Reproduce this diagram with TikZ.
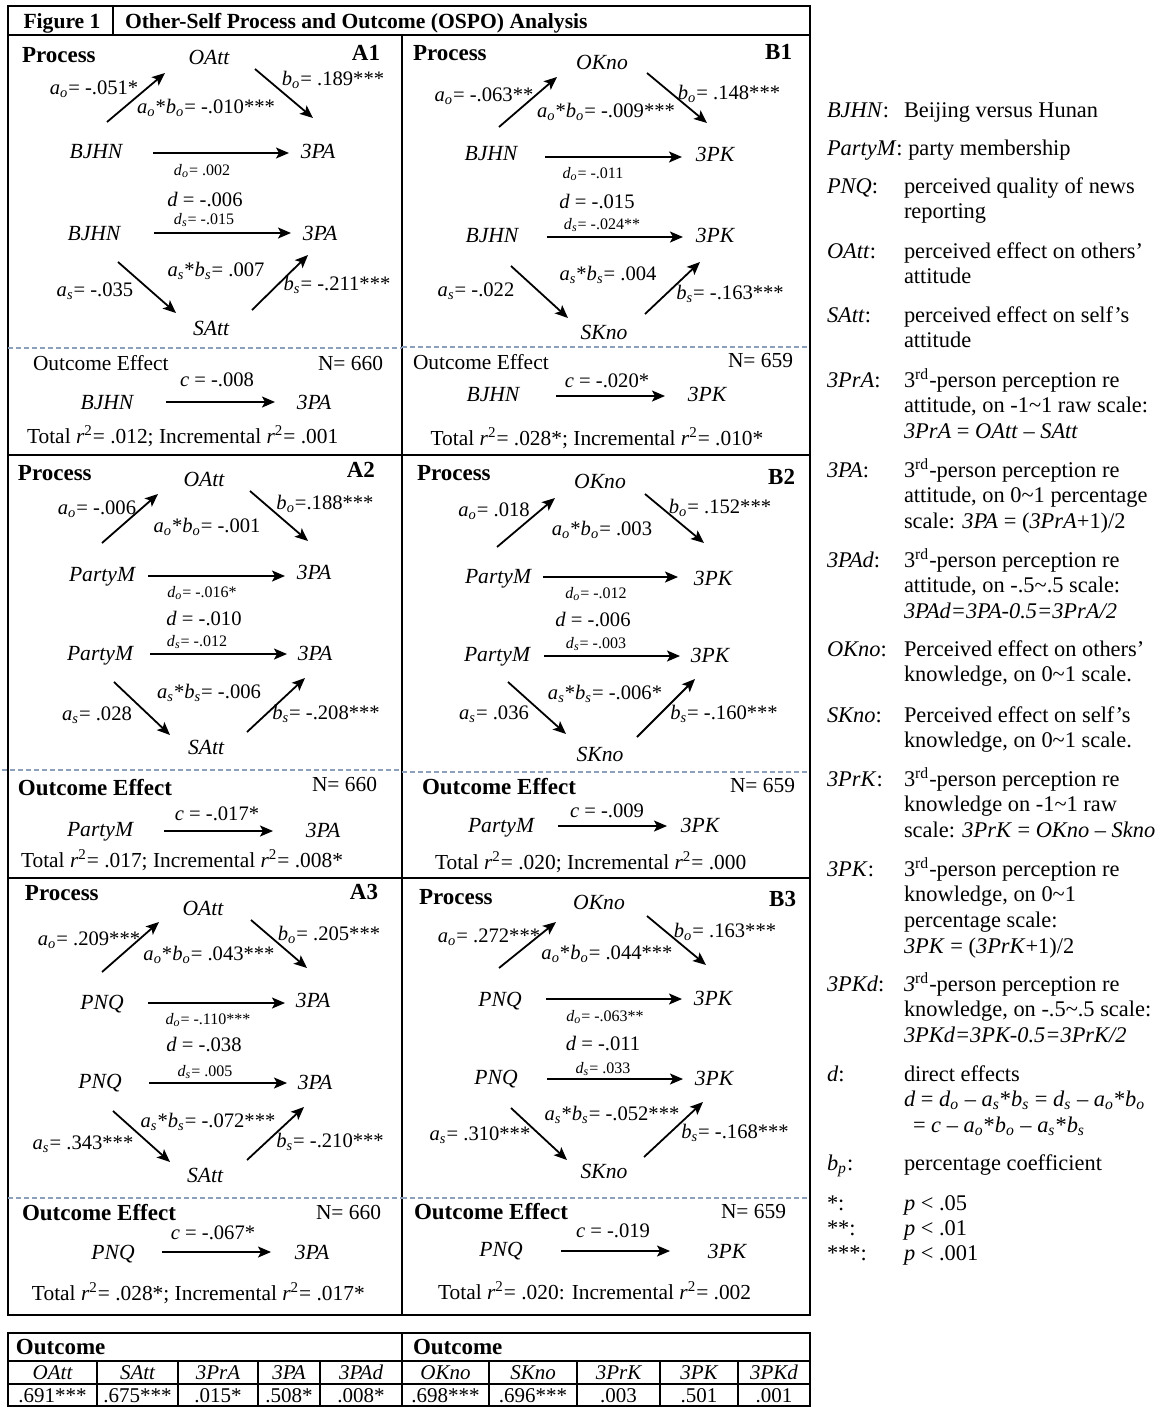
\documentclass[tikz,border=0pt]{standalone}
\usepackage{fontspec}
\setmainfont{Liberation Serif}
\usetikzlibrary{arrows.meta}
\definecolor{dashc}{RGB}{140,160,188}
\newcommand\sbi[2]{\textit{#1}\textsubscript{\textit{#2}}}
\newcommand\rsq{\textit{r}\textsuperscript{2}}
\newcommand\mkarrow[3]{\coordinate (#1s) at (#2); \coordinate (#1e) at (#3); \draw[arr] (#1s) -- (#1e);}
\newcommand\lines[1]{\parbox[t]{170pt}{#1}}
\begin{document}
\begin{tikzpicture}[x=0.5pt,y=-0.5pt,
  every node/.style={inner sep=0pt,outer sep=0pt},
  lab/.style={font=\fontsize{10.8}{12}\selectfont\itshape,text height=7pt,text depth=0pt},
  num/.style={font=\fontsize{10.3}{12}\selectfont,text height=7pt,text depth=0pt},
  sm/.style={font=\fontsize{8}{9.5}\selectfont,text height=5.3pt,text depth=0pt},
  hd/.style={font=\fontsize{11.5}{13}\selectfont\bfseries,text height=7.6pt,text depth=0pt},
  txt/.style={font=\fontsize{10.7}{12}\selectfont,text height=7pt,text depth=0pt},
  ttl/.style={font=\fontsize{10.8}{12}\selectfont\bfseries,text height=7pt,text depth=0pt},
  leg/.style={font=\fontsize{11.2}{12.85}\selectfont},
  thd/.style={font=\fontsize{10.5}{12}\selectfont\itshape,text height=7pt,text depth=0pt},
  tval/.style={font=\fontsize{10.5}{12}\selectfont,text height=7pt,text depth=0pt},
  arr/.style={-{Stealth[length=6.5pt,width=5.5pt,inset=1.5pt]},line width=0.9pt},
  frame/.style={line width=1.1pt},
  tline/.style={line width=0.7pt},
  dsh/.style={draw=dashc,dash pattern=on 2.5pt off 1.5pt,line width=0.6pt}]
\useasboundingbox (0,0) rectangle (1159,1408);

% ---------- frame ----------
\draw[frame] (8,6) rectangle (810,1315);
\draw[frame] (8,35) -- (810,35);
\draw[frame] (113,6) -- (113,35);
\draw[frame] (402,35) -- (402,1315);
\draw[frame] (8,455) -- (810,455);
\draw[frame] (8,878) -- (810,878);
\node[ttl] (fig) at (62,21) {Figure 1};
\node[ttl,anchor=west] (title) at (125,21) {Other-Self Process and Outcome (OSPO) Analysis};

% ---------- A1 ----------
\node[hd,anchor=west] (A1proc) at (22,55) {Process};
\node[lab] (A1O) at (209,57) {OAtt};
\node[hd,anchor=east] (A1id) at (380,53) {A1};
\node[lab] (A1X1) at (96,151) {BJHN};
\node[lab] (A1Y1) at (318,151) {3PA};
\node[lab] (A1X2) at (94,233) {BJHN};
\node[lab] (A1Y2) at (320,233) {3PA};
\node[lab] (A1S) at (211,328) {SAtt};
\node[num] (A1ao) at (94,87) {\sbi{a}{o}= -.051*};
\node[num] (A1bo) at (333,78) {\sbi{b}{o}= .189***};
\node[num] (A1ab) at (206,106) {\sbi{a}{o}*\sbi{b}{o}= -.010***};
\node[sm] (A1do) at (202,170) {\sbi{d}{o}= .002};
\node[num] (A1d) at (205,199) {\textit{d} = -.006};
\node[sm] (A1ds) at (204,219) {\sbi{d}{s}= -.015};
\node[num] (A1asbs) at (216,269) {\sbi{a}{s}*\sbi{b}{s}= .007};
\node[num] (A1as) at (95,289) {\sbi{a}{s}= -.035};
\node[num] (A1bs) at (337,283) {\sbi{b}{s}= -.211***};
\mkarrow{A1c1}{107,122}{165,73}
\mkarrow{A1c2}{255,69}{313,118}
\mkarrow{A1c3}{153,153}{289,153}
\mkarrow{A1c4}{154,233}{291,233}
\mkarrow{A1c5}{118,262}{176,313}
\mkarrow{A1c6}{252,310}{308,255}
\draw[dsh] (8,348) -- (402,348);
\node[txt,anchor=west] (A1oe) at (33,363) {Outcome Effect};
\node[txt,anchor=east] (A1N) at (383,363) {N= 660};
\node[num] (A1c) at (217,379) {\textit{c} = -.008};
\node[lab] (A1X3) at (107,402) {BJHN};
\node[lab] (A1Y3) at (314,402) {3PA};
\mkarrow{A1c7}{166,402}{275,402}
\node[txt,anchor=west] (A1tot) at (27,436) {Total \rsq= .012; Incremental \rsq= .001};

% ---------- B1 ----------
\node[hd,anchor=west] (B1proc) at (413,53) {Process};
\node[lab] (B1O) at (602,62) {OKno};
\node[hd,anchor=east] (B1id) at (792,52) {B1};
\node[lab] (B1X1) at (491,153) {BJHN};
\node[lab] (B1Y1) at (715,154) {3PK};
\node[lab] (B1X2) at (492,235) {BJHN};
\node[lab] (B1Y2) at (715,235) {3PK};
\node[lab] (B1S) at (604,332) {SKno};
\node[num] (B1ao) at (484,94) {\sbi{a}{o}= -.063**};
\node[num] (B1bo) at (729,92) {\sbi{b}{o}= .148***};
\node[num] (B1ab) at (606,110) {\sbi{a}{o}*\sbi{b}{o}= -.009***};
\node[sm] (B1do) at (593,173) {\sbi{d}{o}= -.011};
\node[num] (B1d) at (597,201) {\textit{d} = -.015};
\node[sm] (B1ds) at (602,224) {\sbi{d}{s}= -.024**};
\node[num] (B1asbs) at (608,273) {\sbi{a}{s}*\sbi{b}{s}= .004};
\node[num] (B1as) at (476,289) {\sbi{a}{s}= -.022};
\node[num] (B1bs) at (730,292) {\sbi{b}{s}= -.163***};
\mkarrow{B1c1}{499,127}{557,77}
\mkarrow{B1c2}{647,73}{707,123}
\mkarrow{B1c3}{545,157}{682,157}
\mkarrow{B1c4}{547,237}{683,237}
\mkarrow{B1c5}{511,266}{568,318}
\mkarrow{B1c6}{645,314}{700,262}
\draw[dsh] (402,347) -- (810,347);
\node[txt,anchor=west] (B1oe) at (413,362) {Outcome Effect};
\node[txt,anchor=east] (B1N) at (793,360) {N= 659};
\node[num] (B1c) at (607,380) {\textit{c} = -.020*};
\node[lab] (B1X3) at (493,394) {BJHN};
\node[lab] (B1Y3) at (707,394) {3PK};
\mkarrow{B1c7}{556,396}{665,396}
\node[txt] (B1tot) at (597,438) {Total \rsq= .028*; Incremental \rsq= .010*};

% ---------- A2 ----------
\node[hd,anchor=west] (A2proc) at (18,473) {Process};
\node[lab] (A2O) at (204,479) {OAtt};
\node[hd,anchor=east] (A2id) at (375,470) {A2};
\node[lab] (A2X1) at (102,574) {PartyM};
\node[lab] (A2Y1) at (314,572) {3PA};
\node[lab] (A2X2) at (100,653) {PartyM};
\node[lab] (A2Y2) at (315,653) {3PA};
\node[lab] (A2S) at (206,747) {SAtt};
\node[num] (A2ao) at (97,507) {\sbi{a}{o}= -.006};
\node[num] (A2bo) at (325,502) {\sbi{b}{o}=.188***};
\node[num] (A2ab) at (207,525) {\sbi{a}{o}*\sbi{b}{o}= -.001};
\node[sm] (A2do) at (202,592) {\sbi{d}{o}= -.016*};
\node[num] (A2d) at (204,618) {\textit{d} = -.010};
\node[sm] (A2ds) at (197,641) {\sbi{d}{s}= -.012};
\node[num] (A2asbs) at (209,691) {\sbi{a}{s}*\sbi{b}{s}= -.006};
\node[num] (A2as) at (97,713) {\sbi{a}{s}= .028};
\node[num] (A2bs) at (326,712) {\sbi{b}{s}= -.208***};
\mkarrow{A2c1}{102,543}{158,494}
\mkarrow{A2c2}{250,491}{308,541}
\mkarrow{A2c3}{148,576}{285,576}
\mkarrow{A2c4}{150,654}{287,654}
\mkarrow{A2c5}{114,682}{170,735}
\mkarrow{A2c6}{247,732}{305,678}
\draw[dsh] (2,770) -- (402,770);
\node[hd,anchor=west] (A2oe) at (18,788) {Outcome Effect};
\node[txt,anchor=east] (A2N) at (377,784) {N= 660};
\node[num] (A2c) at (217,813) {\textit{c} = -.017*};
\node[lab] (A2X3) at (100,829) {PartyM};
\node[lab] (A2Y3) at (323,830) {3PA};
\mkarrow{A2c7}{164,831}{273,831}
\node[txt,anchor=west] (A2tot) at (21,860) {Total \rsq= .017; Incremental \rsq= .008*};

% ---------- B2 ----------
\node[hd,anchor=west] (B2proc) at (417,473) {Process};
\node[lab] (B2O) at (600,481) {OKno};
\node[hd,anchor=east] (B2id) at (795,477) {B2};
\node[lab] (B2X1) at (498,576) {PartyM};
\node[lab] (B2Y1) at (713,578) {3PK};
\node[lab] (B2X2) at (497,654) {PartyM};
\node[lab] (B2Y2) at (710,655) {3PK};
\node[lab] (B2S) at (600,754) {SKno};
\node[num] (B2ao) at (494,509) {\sbi{a}{o}= .018};
\node[num] (B2bo) at (720,506) {\sbi{b}{o}= .152***};
\node[num] (B2ab) at (602,528) {\sbi{a}{o}*\sbi{b}{o}= .003};
\node[sm] (B2do) at (596,593) {\sbi{d}{o}= -.012};
\node[num] (B2d) at (593,619) {\textit{d} = -.006};
\node[sm] (B2ds) at (596,643) {\sbi{d}{s}= -.003};
\node[num] (B2asbs) at (605,692) {\sbi{a}{s}*\sbi{b}{s}= -.006*};
\node[num] (B2as) at (494,712) {\sbi{a}{s}= .036};
\node[num] (B2bs) at (724,712) {\sbi{b}{s}= -.160***};
\mkarrow{B2c1}{497,547}{555,498}
\mkarrow{B2c2}{645,494}{704,543}
\mkarrow{B2c3}{543,577}{678,577}
\mkarrow{B2c4}{544,656}{680,656}
\mkarrow{B2c5}{508,682}{566,734}
\mkarrow{B2c6}{637,737}{695,679}
\draw[dsh] (402,772) -- (810,772);
\node[hd,anchor=west] (B2oe) at (422,787) {Outcome Effect};
\node[txt,anchor=east] (B2N) at (795,785) {N= 659};
\node[num] (B2c) at (607,810) {\textit{c} = -.009};
\node[lab] (B2X3) at (501,825) {PartyM};
\node[lab] (B2Y3) at (700,825) {3PK};
\mkarrow{B2c7}{558,826}{667,826}
\node[txt,anchor=west] (B2tot) at (435,862) {Total \rsq= .020; Incremental \rsq= .000};

% ---------- A3 ----------
\node[hd,anchor=west] (A3proc) at (25,893) {Process};
\node[lab] (A3O) at (203,908) {OAtt};
\node[hd,anchor=east] (A3id) at (378,892) {A3};
\node[lab] (A3X1) at (102,1002) {PNQ};
\node[lab] (A3Y1) at (313,1000) {3PA};
\node[lab] (A3X2) at (100,1081) {PNQ};
\node[lab] (A3Y2) at (315,1082) {3PA};
\node[lab] (A3S) at (205,1175) {SAtt};
\node[num] (A3ao) at (89,938) {\sbi{a}{o}= .209***};
\node[num] (A3bo) at (329,933) {\sbi{b}{o}= .205***};
\node[num] (A3ab) at (209,953) {\sbi{a}{o}*\sbi{b}{o}= .043***};
\node[sm] (A3do) at (208,1019) {\sbi{d}{o}= -.110***};
\node[num] (A3d) at (204,1044) {\textit{d} = -.038};
\node[sm] (A3ds) at (205,1071) {\sbi{d}{s}= .005};
\node[num] (A3asbs) at (208,1120) {\sbi{a}{s}*\sbi{b}{s}= -.072***};
\node[num] (A3as) at (83,1142) {\sbi{a}{s}= .343***};
\node[num] (A3bs) at (330,1140) {\sbi{b}{s}= -.210***};
\mkarrow{A3c1}{102,972}{159,922}
\mkarrow{A3c2}{251,920}{307,968}
\mkarrow{A3c3}{148,1003}{285,1003}
\mkarrow{A3c4}{149,1083}{287,1083}
\mkarrow{A3c5}{113,1111}{170,1162}
\mkarrow{A3c6}{247,1160}{304,1107}
\draw[dsh] (8,1198) -- (402,1198);
\node[hd,anchor=west] (A3oe) at (22,1213) {Outcome Effect};
\node[txt,anchor=east] (A3N) at (381,1212) {N= 660};
\node[num] (A3c) at (213,1232) {\textit{c} = -.067*};
\node[lab] (A3X3) at (113,1252) {PNQ};
\node[lab] (A3Y3) at (312,1252) {3PA};
\mkarrow{A3c7}{162,1252}{271,1252}
\node[txt,anchor=west] (A3tot) at (32,1293) {Total \rsq= .028*; Incremental \rsq= .017*};

% ---------- B3 ----------
\node[hd,anchor=west] (B3proc) at (419,897) {Process};
\node[lab] (B3O) at (599,902) {OKno};
\node[hd,anchor=east] (B3id) at (796,899) {B3};
\node[lab] (B3X1) at (500,999) {PNQ};
\node[lab] (B3Y1) at (713,998) {3PK};
\node[lab] (B3X2) at (496,1077) {PNQ};
\node[lab] (B3Y2) at (714,1078) {3PK};
\node[lab] (B3S) at (604,1171) {SKno};
\node[num] (B3ao) at (489,935) {\sbi{a}{o}= .272***};
\node[num] (B3bo) at (725,930) {\sbi{b}{o}= .163***};
\node[num] (B3ab) at (607,952) {\sbi{a}{o}*\sbi{b}{o}= .044***};
\node[sm] (B3do) at (605,1016) {\sbi{d}{o}= -.063**};
\node[num] (B3d) at (603,1043) {\textit{d} = -.011};
\node[sm] (B3ds) at (603,1068) {\sbi{d}{s}= .033};
\node[num] (B3asbs) at (612,1113) {\sbi{a}{s}*\sbi{b}{s}= -.052***};
\node[num] (B3as) at (480,1133) {\sbi{a}{s}= .310***};
\node[num] (B3bs) at (735,1131) {\sbi{b}{s}= -.168***};
\mkarrow{B3c1}{499,968}{556,922}
\mkarrow{B3c2}{647,916}{706,965}
\mkarrow{B3c3}{546,999}{682,999}
\mkarrow{B3c4}{547,1079}{683,1079}
\mkarrow{B3c5}{511,1108}{567,1160}
\mkarrow{B3c6}{644,1157}{703,1102}
\draw[dsh] (402,1198) -- (810,1198);
\node[hd,anchor=west] (B3oe) at (414,1212) {Outcome Effect};
\node[txt,anchor=east] (B3N) at (786,1211) {N= 659};
\node[num] (B3c) at (613,1230) {\textit{c} = -.019};
\node[lab] (B3X3) at (501,1249) {PNQ};
\node[lab] (B3Y3) at (727,1251) {3PK};
\mkarrow{B3c7}{561,1251}{670,1251}
\node[txt,anchor=west] (B3tot) at (438,1292) {Total \rsq= .020: Incremental \rsq= .002};

% ---------- legend ----------
\node[leg,anchor=base west] (L1k) at (827,117) {\textit{BJHN}:};
\node[leg,anchor=base west] (L1d) at (904,117) {Beijing versus Hunan};
\node[leg,anchor=base west] (L2k) at (827,155) {\textit{PartyM}: party membership};
\node[leg,anchor=base west] (L3k) at (827,193) {\textit{PNQ}:};
\node[leg,anchor=base west] (L3d) at (904,193) {\lines{perceived quality of news\\reporting}};
\node[leg,anchor=base west] (L4k) at (827,258) {\textit{OAtt}:};
\node[leg,anchor=base west] (L4d) at (904,258) {\lines{perceived effect on others’\\attitude}};
\node[leg,anchor=base west] (L5k) at (827,322) {\textit{SAtt}:};
\node[leg,anchor=base west] (L5d) at (904,322) {\lines{perceived effect on self’s\\attitude}};
\node[leg,anchor=base west] (L6k) at (827,387) {\textit{3PrA}:};
\node[leg,anchor=base west] (L6d) at (904,387) {\lines{3\textsuperscript{rd}-person perception re\\attitude, on -1\textasciitilde1 raw scale:\\\textit{3PrA} = \textit{OAtt} – \textit{SAtt}}};
\node[leg,anchor=base west] (L7k) at (827,477) {\textit{3PA}:};
\node[leg,anchor=base west] (L7d) at (904,477) {\lines{3\textsuperscript{rd}-person perception re\\attitude, on 0\textasciitilde1 percentage\\scale: \textit{3PA} = (\textit{3PrA}+1)/2}};
\node[leg,anchor=base west] (L8k) at (827,567) {\textit{3PAd}:};
\node[leg,anchor=base west] (L8d) at (904,567) {\lines{3\textsuperscript{rd}-person perception re\\attitude, on -.5\textasciitilde.5 scale:\\\textit{3PAd=3PA-0.5=3PrA/2}}};
\node[leg,anchor=base west] (L9k) at (827,656) {\textit{OKno}:};
\node[leg,anchor=base west] (L9d) at (904,656) {\lines{Perceived effect on others’\\knowledge, on 0\textasciitilde1 scale.}};
\node[leg,anchor=base west] (L10k) at (827,722) {\textit{SKno}:};
\node[leg,anchor=base west] (L10d) at (904,722) {\lines{Perceived effect on self’s\\knowledge, on 0\textasciitilde1 scale.}};
\node[leg,anchor=base west] (L11k) at (827,786) {\textit{3PrK}:};
\node[leg,anchor=base west] (L11d) at (904,786) {\lines{3\textsuperscript{rd}-person perception re\\knowledge on -1\textasciitilde1 raw\\scale: \textit{3PrK} = \textit{OKno} – \textit{Skno}}};
\node[leg,anchor=base west] (L12k) at (827,876) {\textit{3PK}:};
\node[leg,anchor=base west] (L12d) at (904,876) {\lines{3\textsuperscript{rd}-person perception re\\knowledge, on 0\textasciitilde1\\percentage scale:\\\textit{3PK} = (\textit{3PrK}+1)/2}};
\node[leg,anchor=base west] (L13k) at (827,991) {\textit{3PKd}:};
\node[leg,anchor=base west] (L13d) at (904,991) {\lines{\textit{3}\textsuperscript{rd}-person perception re\\knowledge, on -.5\textasciitilde.5 scale:\\\textit{3PKd=3PK-0.5=3PrK/2}}};
\node[leg,anchor=base west] (L14k) at (827,1081) {\textit{d}:};
\node[leg,anchor=base west] (L14d) at (904,1081) {\lines{direct effects\\\textit{d} = \sbi{d}{o} – \sbi{a}{s}*\sbi{b}{s} = \sbi{d}{s} – \sbi{a}{o}*\sbi{b}{o}\\\hspace*{4.5pt}= \textit{c} – \sbi{a}{o}*\sbi{b}{o} – \sbi{a}{s}*\sbi{b}{s}}};
\node[leg,anchor=base west] (L15k) at (827,1170) {\sbi{b}{p}:};
\node[leg,anchor=base west] (L15d) at (904,1170) {percentage coefficient};
\node[leg,anchor=base west] (L16k) at (827,1210) {*:};
\node[leg,anchor=base west] (L16d) at (904,1210) {\textit{p} < .05};
\node[leg,anchor=base west] (L17k) at (827,1235) {**:};
\node[leg,anchor=base west] (L17d) at (904,1235) {\textit{p} < .01};
\node[leg,anchor=base west] (L18k) at (827,1260) {***:};
\node[leg,anchor=base west] (L18d) at (904,1260) {\textit{p} < .001};

% ---------- table ----------
\draw[frame] (8,1333) rectangle (810,1406);
\draw[tline] (8,1361) -- (810,1361);
\draw[tline] (8,1384) -- (810,1384);
\draw[frame] (402,1333) -- (402,1406);
\foreach \xx in {97,178,258,320,489,577,660,738} {\draw[tline] (\xx,1361) -- (\xx,1406);}
\node[hd,anchor=west] (TL) at (16,1347) {Outcome};
\node[hd,anchor=west] (TR) at (413,1347) {Outcome};
\node[thd] (H1) at (52.5,1372) {OAtt};
\node[thd] (H2) at (137.5,1372) {SAtt};
\node[thd] (H3) at (218,1372) {3PrA};
\node[thd] (H4) at (289,1372) {3PA};
\node[thd] (H5) at (361,1372) {3PAd};
\node[thd] (H6) at (445.5,1372) {OKno};
\node[thd] (H7) at (533,1372) {SKno};
\node[thd] (H8) at (618.5,1372) {3PrK};
\node[thd] (H9) at (699,1372) {3PK};
\node[thd] (H10) at (774,1372) {3PKd};
\node[tval] (V1) at (52.5,1395) {.691***};
\node[tval] (V2) at (137.5,1395) {.675***};
\node[tval] (V3) at (218,1395) {.015*};
\node[tval] (V4) at (289,1395) {.508*};
\node[tval] (V5) at (361,1395) {.008*};
\node[tval] (V6) at (445.5,1395) {.698***};
\node[tval] (V7) at (533,1395) {.696***};
\node[tval] (V8) at (618.5,1395) {.003};
\node[tval] (V9) at (699,1395) {.501};
\node[tval] (V10) at (774,1395) {.001};
\end{tikzpicture}
\end{document}
